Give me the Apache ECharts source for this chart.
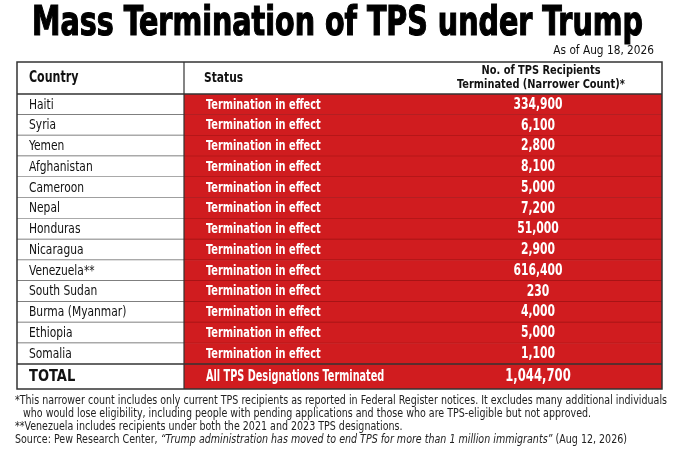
<!DOCTYPE html>
<html>
<head>
    <meta charset="utf-8" />
    <script src="https://cdn.jsdelivr.net/npm/echarts@6.0.0/dist/echarts.min.js"></script>
    <title>Mass Termination of TPS under Trump</title>
    <style>
        html, body { margin: 0; padding: 0; background: #fff; }
        #main { width: 680px; height: 453px; }
    </style>
</head>
<body>
    <div id="main"></div>
    <script type="text/javascript">
        // table rows
        var countries = ['Haiti', 'Syria', 'Yemen', 'Afghanistan', 'Cameroon', 'Nepal', 'Honduras',
            'Nicaragua', 'Venezuela**', 'South Sudan', 'Burma (Myanmar)', 'Ethiopia', 'Somalia'];
        var statuses = ['Termination in effect', 'Termination in effect', 'Termination in effect',
            'Termination in effect', 'Termination in effect', 'Termination in effect', 'Termination in effect',
            'Termination in effect', 'Termination in effect', 'Termination in effect', 'Termination in effect',
            'Termination in effect', 'Termination in effect'];
        var recipients = [334900, 6100, 2800, 8100, 5000, 7200, 51000, 2900, 616400, 230, 4000, 5000, 1100];
        // total row
        var totalCountry = ['TOTAL'];
        var totalStatus = ['All TPS Designations Terminated'];
        var totalRecipients = [1044700];
        // column headers
        var headers = ['Country', 'Status', 'No. of TPS Recipients\nTerminated (Narrower Count)*'];

        var FONT = '"Liberation Sans Narrow", "DejaVu Sans Condensed", "Arial Narrow", sans-serif';
        var RED = '#d01c1f';
        var RED_LINE = '#9a1013';
        var GRAY_LINE = '#555';
        var BORDER = '#333';

        // column layout in x-axis units (grid is 645px wide)
        var TABLE_W = 645;
        var COL_STATUS = 167;
        var TEXT_COUNTRY = 12;
        var TEXT_STATUS = 189;
        var TEXT_VALUE = 521;

        function measure(font, text) {
            var ctx = document.createElement('canvas').getContext('2d');
            ctx.font = font;
            return ctx.measureText(text).width;
        }

        // text element squeezed horizontally to imitate a narrow typeface
        function txt(text, x, y, font, fill, align, sx, extra) {
            var style = { text: text, x: 0, y: 0, font: font, fill: fill, align: align, verticalAlign: 'middle' };
            if (extra) {
                for (var k in extra) style[k] = extra[k];
            }
            return { type: 'text', x: x, y: y, scaleX: sx, style: style };
        }

        function makeRenderer(names, stats, values, isTotal) {
            return function (params, api) {
                var i = params.dataIndex;
                var c = api.coord([0, i]);
                var h = api.size([0, 1])[1];
                var y0 = c[1] - h / 2;
                var yc = c[1] + 0.5;
                var xL = c[0];
                var xS = api.coord([COL_STATUS, i])[0];
                var xR = api.coord([TABLE_W, i])[0];
                var last = i === names.length - 1;
                var children = [
                    { type: 'rect', shape: { x: xL, y: y0, width: xS - xL, height: h }, style: { fill: '#fff' } },
                    { type: 'rect', shape: { x: xS, y: y0, width: xR - xS, height: h }, style: { fill: RED } }
                ];
                if (!last) {
                    children.push({ type: 'line', shape: { x1: xL, y1: y0 + h, x2: xS, y2: y0 + h }, style: { stroke: GRAY_LINE, lineWidth: 1.4 } });
                    children.push({ type: 'line', shape: { x1: xS, y1: y0 + h, x2: xR, y2: y0 + h }, style: { stroke: RED_LINE, lineWidth: 1.2 } });
                }
                if (isTotal) {
                    children.push(txt(names[i], api.coord([TEXT_COUNTRY, i])[0], yc, 'bold 16.5px ' + FONT, '#111', 'left', 0.88));
                    children.push(txt(stats[i], api.coord([TEXT_STATUS, i])[0], yc, 'bold 15px ' + FONT, '#fff', 'left', 0.72));
                    children.push(txt(values[i].toLocaleString('en-US'), api.coord([TEXT_VALUE, i])[0], yc, 'bold 17px ' + FONT, '#fff', 'center', 0.76));
                } else {
                    children.push(txt(names[i], api.coord([TEXT_COUNTRY, i])[0], yc, '14px ' + FONT, '#111', 'left', 0.85));
                    children.push(txt(stats[i], api.coord([TEXT_STATUS, i])[0], yc, 'bold 14px ' + FONT, '#fff', 'left', 0.78));
                    children.push(txt(values[i].toLocaleString('en-US'), api.coord([TEXT_VALUE, i])[0], yc, 'bold 15px ' + FONT, '#fff', 'center', 0.8));
                }
                return { type: 'group', children: children };
            };
        }

        var titleText = 'Mass Termination of TPS under Trump';
        var titleFont = 'bold 41px ' + FONT;
        var titleScale = 611 / measure(titleFont, titleText);

        var noteFont = '11.5px ' + FONT;
        var note1 = '*This narrower count includes only current TPS recipients as reported in Federal Register notices. It excludes many additional individuals';
        var noteScale = 652 / measure(noteFont, note1);

        var chart = echarts.init(document.getElementById('main'), null, { renderer: 'canvas' });
        var option = {
            animation: false,
            backgroundColor: '#fff',
            grid: [
                { left: 17, right: 18, top: 94, height: 270 },
                { left: 17, right: 18, top: 364, height: 25 }
            ],
            xAxis: [
                { type: 'value', min: 0, max: TABLE_W, show: false, gridIndex: 0 },
                { type: 'value', min: 0, max: TABLE_W, show: false, gridIndex: 1 }
            ],
            yAxis: [
                { type: 'category', data: countries, inverse: true, show: false, gridIndex: 0 },
                { type: 'category', data: totalCountry, inverse: true, show: false, gridIndex: 1 }
            ],
            series: [
                {
                    type: 'custom', xAxisIndex: 0, yAxisIndex: 0, silent: true,
                    renderItem: makeRenderer(countries, statuses, recipients, false),
                    data: countries.map(function (c, i) { return [0, i]; })
                },
                {
                    type: 'custom', xAxisIndex: 1, yAxisIndex: 1, silent: true,
                    renderItem: makeRenderer(totalCountry, totalStatus, totalRecipients, true),
                    data: totalCountry.map(function (c, i) { return [0, i]; })
                }
            ],
            graphic: [
                txt(titleText, 32, 24, titleFont, '#000', 'left', titleScale, { stroke: '#000', lineWidth: 1.2 }),
                txt('As of Aug 18, 2026', 654, 51, '12.5px ' + FONT, '#111', 'right', 0.94),
                // header cells
                txt(headers[0], 29, 78, 'bold 15px ' + FONT, '#111', 'left', 0.82),
                txt(headers[1], 204, 78, 'bold 14.5px ' + FONT, '#111', 'left', 0.82),
                txt(headers[2], 541, 78, 'bold 13px ' + FONT, '#111', 'center', 0.84, { lineHeight: 14 }),
                // frame
                { type: 'line', shape: { x1: 17, y1: 94, x2: 662, y2: 94 }, style: { stroke: BORDER, lineWidth: 1.5 }, z: 10 },
                { type: 'line', shape: { x1: 17, y1: 364, x2: 662, y2: 364 }, style: { stroke: BORDER, lineWidth: 1.5 }, z: 10 },
                { type: 'line', shape: { x1: 184, y1: 62, x2: 184, y2: 389 }, style: { stroke: BORDER, lineWidth: 1.2 }, z: 10 },
                { type: 'rect', shape: { x: 17, y: 62, width: 645, height: 327 }, style: { fill: null, stroke: BORDER, lineWidth: 1.5 }, z: 10 },
                // footnotes
                txt(note1, 15, 401, noteFont, '#222', 'left', noteScale),
                txt('who would lose eligibility, including people with pending applications and those who are TPS-eligible but not approved.', 23, 414, noteFont, '#222', 'left', noteScale),
                txt('**Venezuela includes recipients under both the 2021 and 2023 TPS designations.', 15, 427, noteFont, '#222', 'left', noteScale),
                txt('Source: Pew Research Center, {i|\u201cTrump administration has moved to end TPS for more than 1 million immigrants\u201d} (Aug 12, 2026)',
                    15, 440, noteFont, '#222', 'left', noteScale,
                    { rich: { i: { fontStyle: 'italic', fontSize: 11.5, fontFamily: FONT, fill: '#222' } } })
            ]
        };
        chart.setOption(option);
    </script>
</body>
</html>
